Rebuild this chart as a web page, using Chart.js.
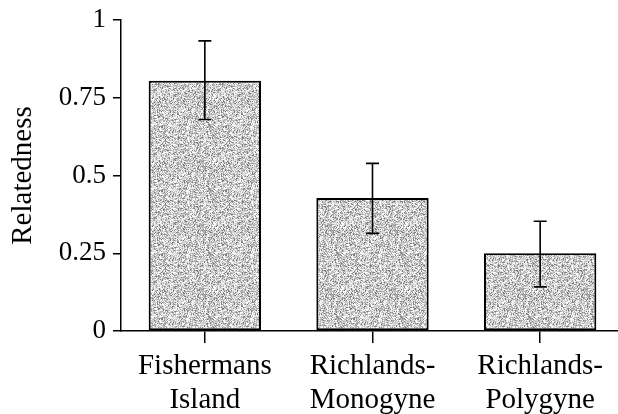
<!DOCTYPE html>
<html>
<head>
<meta charset="utf-8">
<script src="https://cdn.jsdelivr.net/npm/chart.js@4.4.1/dist/chart.umd.min.js"></script>
<style>
  html, body { margin: 0; padding: 0; background: #fff; overflow: hidden; }
  #wrap { width: 624px; height: 414px; }
</style>
</head>
<body>
<div id="wrap"><canvas id="c" width="624" height="414"></canvas></div>
<script>
const categories = [["Fishermans", "Island"], ["Richlands-", "Monogyne"], ["Richlands-", "Polygyne"]];
const relatedness = [0.805, 0.428, 0.25];
const errorTop = [0.933, 0.539, 0.353];
const errorBottom = [0.68, 0.314, 0.142];
const yTickValues = [0, 0.25, 0.5, 0.75, 1];
const yTickLabels = ["0", "0.25", "0.5", "0.75", "1"];

// stippled gray texture (styling only)
function makePattern() {
  const pc = document.createElement('canvas');
  pc.width = 64; pc.height = 64;
  const g = pc.getContext('2d');
  const img = g.createImageData(64, 64);
  let s = 12345;
  function rnd() { s = (s * 1103515245 + 12345) & 0x7fffffff; return s / 0x7fffffff; }
  for (let i = 0; i < 64 * 64; i++) {
    const r = rnd();
    let v;
    if (r < 0.25) v = 252;
    else if (r < 0.60) v = 215;
    else if (r < 0.88) v = 175;
    else v = 125;
    img.data[i * 4] = v; img.data[i * 4 + 1] = v; img.data[i * 4 + 2] = v; img.data[i * 4 + 3] = 255;
  }
  g.putImageData(img, 0, 0);
  return g.createPattern(pc, 'repeat');
}

const errorBars = {
  id: 'errorBars',
  afterDatasetsDraw(chart) {
    const ctx = chart.ctx;
    const xs = chart.scales.x, ys = chart.scales.y;
    ctx.save();
    ctx.strokeStyle = '#000';
    ctx.lineWidth = 1.6;
    relatedness.forEach((v, i) => {
      const x = xs.getPixelForValue(i);
      const yT = ys.getPixelForValue(errorTop[i]);
      const yB = ys.getPixelForValue(errorBottom[i]);
      const cap = 6.5;
      ctx.beginPath();
      ctx.moveTo(x, yT); ctx.lineTo(x, yB);
      ctx.moveTo(x - cap, yT); ctx.lineTo(x + cap, yT);
      ctx.moveTo(x - cap, yB); ctx.lineTo(x + cap, yB);
      ctx.stroke();
    });
    ctx.restore();
  }
};

const serif = "'Liberation Serif', 'Times New Roman', serif";

new Chart(document.getElementById('c'), {
  type: 'bar',
  data: {
    labels: categories,
    datasets: [{
      data: relatedness,
      backgroundColor: makePattern(),
      borderColor: '#000',
      borderWidth: 2,
      borderSkipped: false,
      barPercentage: 0.67,
      categoryPercentage: 1.0
    }]
  },
  options: {
    responsive: false,
    animation: false,
    events: [],
    layout: { padding: { top: 20, left: 0, right: 0, bottom: 0 } },
    plugins: { legend: { display: false }, tooltip: { enabled: false } },
    scales: {
      x: {
        offset: true,
        grid: { display: true, offset: false, drawOnChartArea: false, drawTicks: true, tickLength: 12, color: '#000', lineWidth: 1.5 },
        border: { display: true, color: '#000', width: 1.5 },
        ticks: {
          color: '#000',
          padding: 7,
          maxRotation: 0,
          font: { family: serif, size: 29, lineHeight: 1.15 }
        },
        afterFit(scale) { scale.height = 414 - 331; scale.paddingLeft = 0; scale.paddingRight = 0; }
      },
      y: {
        min: 0, max: 1,
        afterBuildTicks(scale) { scale.ticks = yTickValues.map(v => ({ value: v })); },
        grid: { display: true, drawOnChartArea: false, drawTicks: true, tickLength: 8, color: '#000', lineWidth: 1.5 },
        border: { display: true, color: '#000', width: 1.5 },
        ticks: {
          color: '#000',
          padding: 7,
          font: { family: serif, size: 27 },
          callback: (v) => { const i = yTickValues.indexOf(v); return i >= 0 ? yTickLabels[i] : ''; }
        },
        title: {
          display: true,
          text: 'Relatedness',
          color: '#000',
          padding: { top: 6, bottom: 0 },
          font: { family: serif, size: 29, lineHeight: 1.2 }
        },
        afterFit(scale) { scale.width = 121; scale.paddingTop = 0; scale.paddingBottom = 0; }
      }
    }
  },
  plugins: [errorBars]
});
</script>
</body>
</html>
